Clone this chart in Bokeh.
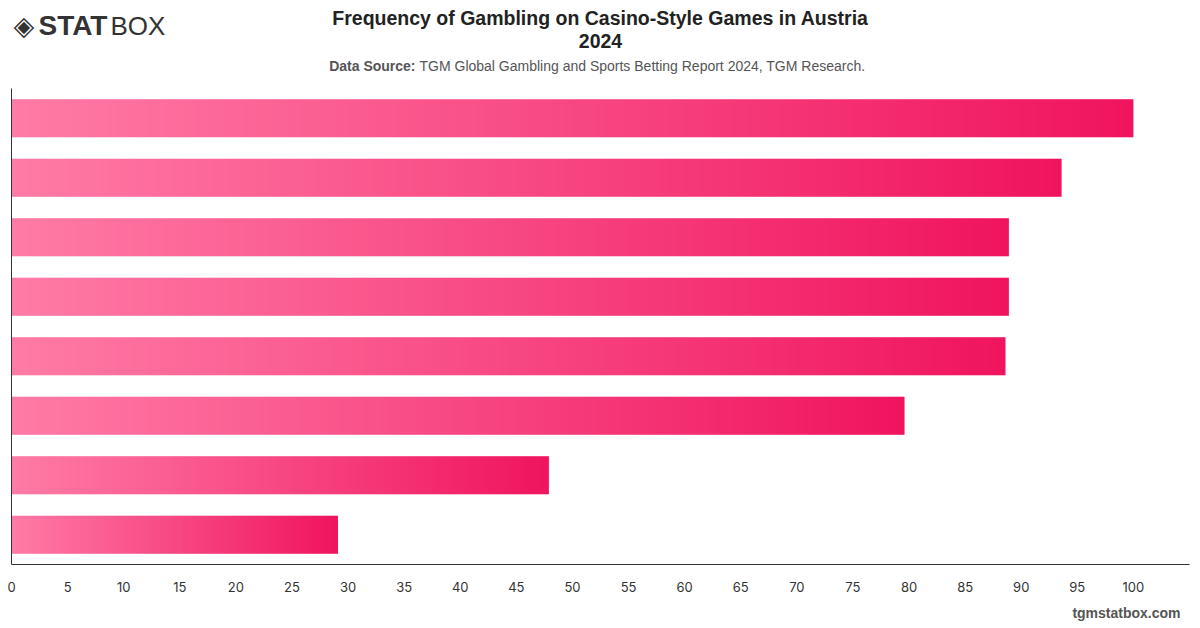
import numpy as np
from bokeh.plotting import figure
from bokeh.layouts import column
from bokeh.models import Range1d, FixedTicker
from bokeh.core.properties import value
from bokeh.embed import file_html
from bokeh.resources import INLINE

# ---- data ----
categories = ["Bar 1", "Bar 2", "Bar 3", "Bar 4", "Bar 5", "Bar 6", "Bar 7", "Bar 8"]
values = [100.0, 93.6, 88.9, 88.9, 88.6, 79.6, 47.9, 29.1]
x_ticks = [0, 5, 10, 15, 20, 25, 30, 35, 40, 45, 50, 55, 60, 65, 70, 75, 80, 85, 90, 95, 100]

title_line1 = "Frequency of Gambling on Casino-Style Games in Austria"
title_line2 = "2024"
source_bold = "Data Source:"
source_text = "TGM Global Gambling and Sports Betting Report 2024, TGM Research."
watermark = "tgmstatbox.com"

W, H = 1200, 628
HEAD_H, FOOT_H = 88, 28
MAIN_H = H - HEAD_H - FOOT_H
FRAME_L, FRAME_R, FRAME_B = 11, 1189, 564
TEXT_DY = -7


def blank(h):
    # frames in a column are aligned with the main plot's frame (FRAME_L..FRAME_R)
    f = figure(width=W, height=h, output_backend="svg", toolbar_location=None,
               title=None, x_axis_location=None, y_axis_location=None,
               x_range=Range1d(FRAME_L, FRAME_R), y_range=Range1d(h, 0),
               min_border=0, min_border_left=0, min_border_right=0,
               min_border_top=0, min_border_bottom=0)
    f.grid.visible = False
    f.outline_line_color = None
    f.background_fill_color = "white"
    f.border_fill_color = "white"
    return f


header = blank(HEAD_H)
footer = blank(FOOT_H)

n = len(values)
p = figure(width=W, height=MAIN_H, output_backend="svg", toolbar_location=None,
           title=None,
           x_range=Range1d(0, 105), y_range=Range1d(-0.5, n - 0.5),
           min_border_left=FRAME_L, min_border_right=W - FRAME_R,
           min_border_top=0, min_border_bottom=(HEAD_H + MAIN_H) - FRAME_B)
p.outline_line_color = None
p.grid.visible = False
p.background_fill_color = "white"
p.border_fill_color = "white"

# gradient bars
c0 = np.array([0xFF, 0x7B, 0xA6], dtype=float)
c1 = np.array([0xF0, 0x14, 0x5F], dtype=float)
N = 256
t = np.linspace(0, 1, N)[:, None]
cols = (c0 * (1 - t) + c1 * t).round().astype(np.uint8)
img = np.zeros((1, N), dtype=np.uint32)
view = img.view(dtype=np.uint8).reshape((1, N, 4))
view[0, :, 0] = cols[:, 0]
view[0, :, 1] = cols[:, 1]
view[0, :, 2] = cols[:, 2]
view[0, :, 3] = 255

bar_h = 0.64
ys = [n - 1 - i for i in range(n)]
p.image_rgba(image=[img] * n, x=[0] * n, y=[y - bar_h / 2 for y in ys],
             dw=values, dh=[bar_h] * n)

# axes
p.xaxis.ticker = FixedTicker(ticks=x_ticks)
p.xaxis.major_tick_line_color = None
p.xaxis.minor_tick_line_color = None
p.xaxis.axis_line_color = "#333333"
p.xaxis.major_label_text_font = "Inter"
p.xaxis.major_label_text_font_size = "13px"
p.xaxis.major_label_text_color = "#333333"
p.xaxis.major_label_standoff = 11

p.yaxis.ticker = FixedTicker(ticks=[])
p.yaxis.major_tick_line_color = None
p.yaxis.minor_tick_line_color = None
p.yaxis.axis_line_color = "#333333"
p.yaxis.major_label_text_font_size = "0px"


def lab(f, x, y, text, font="Liberation Sans", size="14px", style="normal",
        color="#333333", align="left"):
    f.text(x=[x], y=[y + TEXT_DY], text=[text], text_font=value(font),
           text_font_size=value(size), text_font_style=style, text_color=color,
           text_align=align, text_baseline="alphabetic")


lab(header, 600, 24, title_line1, size="19.5px", style="bold", color="#222222", align="center")
lab(header, 600, 47, title_line2, size="19.5px", style="bold", color="#222222", align="center")
lab(header, 415, 72, source_bold, size="14px", style="bold", color="#555555", align="right")
lab(header, 419, 72, source_text, size="14px", color="#555555", align="left")

# logo
lab(header, 13, 32, "\u25c8", font="DejaVu Sans", size="27px", color="#333333")
lab(header, 38, 32, "STAT", size="28px", style="bold", color="#333333")
lab(header, 110, 32, "BOX", size="26px", color="#333333")

lab(footer, 1180, 619 - (HEAD_H + MAIN_H), watermark, size="14px", style="bold",
    color="#555555", align="right")

layout = column(header, p, footer, spacing=0)
open("out.html", "w").write(file_html(layout, INLINE))
